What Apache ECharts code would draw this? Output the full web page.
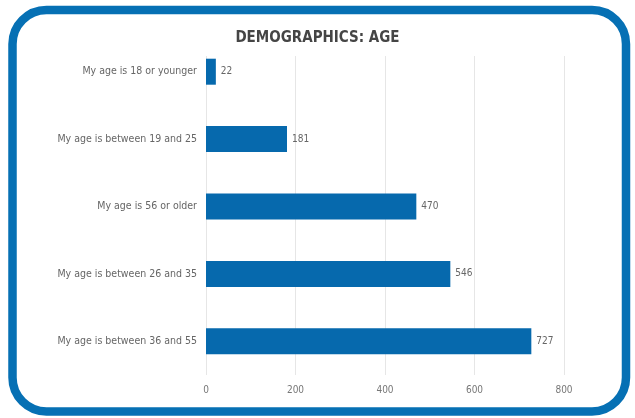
<!DOCTYPE html>
<html>
<head>
<meta charset="utf-8">
<script src="https://cdn.jsdelivr.net/npm/echarts@6/dist/echarts.min.js"></script>
<style>
html,body{margin:0;padding:0;background:#fff;}
#chart{width:635px;height:418px;}
</style>
</head>
<body>
<div id="chart"></div>
<script>
var categories = [
  'My age is 18 or younger',
  'My age is between 19 and 25',
  'My age is 56 or older',
  'My age is between 26 and 35',
  'My age is between 36 and 55'
];
var counts = [22, 181, 470, 546, 727];
var xTicks = [0, 200, 400, 600, 800];

var chart = echarts.init(document.getElementById('chart'), null, {renderer: 'canvas'});
var font = '"DejaVu Sans Condensed", "Liberation Sans Narrow", sans-serif';
chart.setOption({
  backgroundColor: '#ffffff',
  animation: false,
  title: {
    text: 'DEMOGRAPHICS: AGE',
    left: 'center',
    top: 26,
    z: 8,
    textStyle: {fontFamily: font, fontSize: 15, fontWeight: 'bold', color: '#454545'}
  },
  graphic: [{
    type: 'rect',
    shape: {x: 150, y: 34, width: 450, height: 22},
    style: {fill: '#ffffff'},
    z: 1
  }, {
    type: 'rect',
    shape: {x: 12.5, y: 10, width: 613.5, height: 401.5, r: 34},
    style: {fill: 'none', stroke: '#0670b4', lineWidth: 8.5},
    z: 10
  }],
  grid: {left: 206, right: 71, top: 38, bottom: 43},
  xAxis: {
    type: 'value',
    min: xTicks[0],
    max: xTicks[xTicks.length - 1],
    interval: xTicks[1] - xTicks[0],
    axisLine: {show: false},
    axisTick: {show: false},
    splitLine: {lineStyle: {color: '#e6e6e6', width: 1}},
    axisLabel: {fontFamily: font, fontSize: 10, color: '#777777', margin: 10}
  },
  yAxis: {
    type: 'category',
    data: categories,
    inverse: true,
    axisLine: {show: false},
    axisTick: {show: false},
    axisLabel: {fontFamily: font, fontSize: 10.5, color: '#666666', margin: 9}
  },
  series: [{
    type: 'bar',
    data: counts,
    barWidth: 26,
    z: 3,
    itemStyle: {color: '#0669ad'},
    label: {
      show: true,
      position: 'right',
      distance: 5,
      fontFamily: font,
      fontSize: 10,
      color: '#666666'
    }
  }]
});
</script>
</body>
</html>
